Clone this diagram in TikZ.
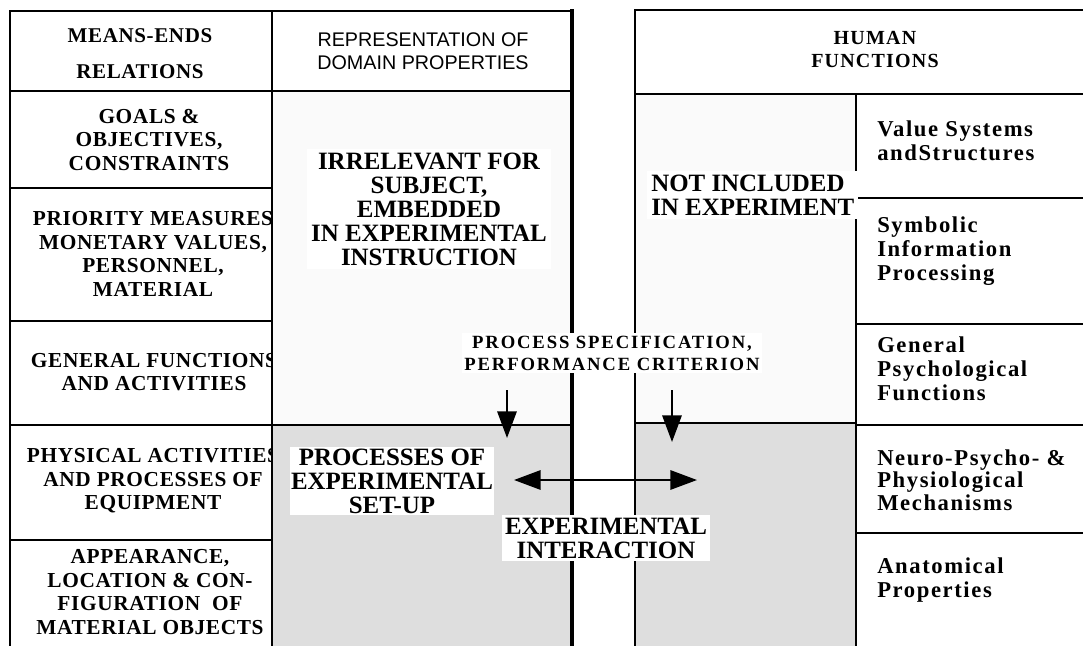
\documentclass[tikz,border=0pt]{standalone}
\usepackage{fontspec}
\setmainfont{Liberation Serif}
\setsansfont{Liberation Sans}
\usetikzlibrary{arrows.meta}
\definecolor{upperfill}{RGB}{250,250,250}
\definecolor{lowerfill}{RGB}{222,222,222}

\begin{document}
\begin{tikzpicture}[x=0.75pt, y=-0.75pt,
    rule/.style={line width=1.6pt},
    thickrule/.style={line width=3pt},
    flow/.style={line width=1.6pt, -{Triangle[length=20pt,width=14.5pt]}},
    twoway/.style={line width=1.6pt, {Triangle[length=20pt,width=14.5pt]}-{Triangle[length=20pt,width=14.5pt]}},
    headserif/.style={align=center, font=\fontsize{15.75}{27}\selectfont\bfseries\addfontfeatures{LetterSpace=3}},
    headsans/.style={align=center, font=\fontsize{14.8}{17.25}\selectfont\sffamily},
    headhuman/.style={align=center, font=\fontsize{15}{17.25}\selectfont\bfseries\addfontfeatures{LetterSpace=6}},
    levelcell/.style={align=center, font=\fontsize{16}{17.6}\selectfont\bfseries\addfontfeatures{LetterSpace=3}},
    bigtag/.style={align=center, fill=white, inner sep=2pt, font=\fontsize{18.7}{18}\selectfont\bfseries},
    spectag/.style={align=center, fill=white, inner sep=2pt, font=\fontsize{14}{16.5}\selectfont\bfseries\addfontfeatures{LetterSpace=10}},
    humancell/.style={align=left, anchor=west, inner sep=0pt, font=\fontsize{17}{18}\selectfont\bfseries\addfontfeatures{LetterSpace=7}}]
  \useasboundingbox (0,0) rectangle (1083,646);

  % Means-ends levels (left column)
  \node[levelcell] (goals) at (149,140) {GOALS \&\\OBJECTIVES,\\CONSTRAINTS};
  \node[levelcell] (priority) at (153,254) {PRIORITY MEASURES\\MONETARY VALUES,\\PERSONNEL,\\MATERIAL};
  \node[levelcell] (genfunc) at (154,372) {GENERAL FUNCTIONS\\AND ACTIVITIES};
  \node[levelcell] (physact) at (153,481) {PHYSICAL ACTIVITIES\\AND PROCESSES OF\\EQUIPMENT};
  \node[levelcell] (appear) at (150,592) {APPEARANCE,\\LOCATION \& CON-\\ FIGURATION\ \ OF\\MATERIAL OBJECTS};

  % Shaded columns
  \fill[upperfill] (272,91) rectangle (572,425);
  \fill[lowerfill] (272,425) rectangle (572,650);
  \fill[upperfill] (635,94) rectangle (856,423);
  \fill[lowerfill] (635,423) rectangle (856,650);

  % Left block
  \draw[rule] (10,650) -- (10,11) -- (572,11);
  \draw[rule] (272,11) -- (272,650);
  \draw[rule] (10,91) -- (572,91);
  \foreach \y in {188,321,425,540}
    \draw[rule] (10,\y) -- (272,\y);
  \draw[rule] (272,425) -- (572,425);
  \draw[thickrule] (572,9) -- (572,650);

  % Right block
  \draw[rule] (635,650) -- (635,10) -- (1090,10);
  \draw[rule] (635,94) -- (1090,94);
  \draw[rule] (856,94) -- (856,650);
  \foreach \y in {198,324,425,533}
    \draw[rule] (856,\y) -- (1090,\y);
  \draw[rule] (635,423) -- (856,423);

  % Headers
  \node[headserif] (meansends) at (140,54) {MEANS-ENDS\\RELATIONS};
  \node[headsans] (domain) at (423,51) {REPRESENTATION OF\\DOMAIN PROPERTIES};
  \node[headhuman] (human) at (875,49) {HUMAN\\FUNCTIONS};

  % Human functions (right column)
  \node[humancell] (values) at (877,141) {Value Systems\\andStructures};
  \node[humancell] (symbolic) at (877,251) {Symbolic\\Information\\Processing};
  \node[humancell] (psych) at (877,369) {General\\Psychological\\Functions};
  \node[humancell, font=\fontsize{17}{16.9}\selectfont\bfseries\addfontfeatures{LetterSpace=7}] (neuro) at (877,480) {Neuro-Psycho- \&\\Physiological\\Mechanisms};
  \node[humancell] (anatomy) at (877,580) {Anatomical\\Properties};

  % Labels in the shaded columns
  \node[bigtag, inner sep=3pt] (irrelevant) at (429,209) {IRRELEVANT FOR\\SUBJECT,\\EMBEDDED\\IN EXPERIMENTAL\\INSTRUCTION};
  \node[bigtag, align=left, anchor=west, inner sep=3pt] (notincl) at (647,195) {NOT INCLUDED\\IN EXPERIMENT};
  \node[bigtag, inner sep=1pt] (setup) at (392,481) {PROCESSES OF\\EXPERIMENTAL\\SET-UP};
  \node[spectag] (spec) at (612,353) {PROCESS SPECIFICATION,\\PERFORMANCE CRITERION};
  \node[bigtag] (interact) at (606,538) {EXPERIMENTAL\\INTERACTION};

  % Arrows
  \coordinate (specleft) at (507,390);
  \coordinate (setuptop) at (507,438);
  \coordinate (specright) at (672,390);
  \coordinate (humantop) at (672,442);
  \coordinate (setupside) at (514,480);
  \coordinate (humanside) at (697,480);
  \draw[flow] (specleft) -- (setuptop);
  \draw[flow] (specright) -- (humantop);
  \draw[twoway] (setupside) -- (humanside);
\end{tikzpicture}
\end{document}
